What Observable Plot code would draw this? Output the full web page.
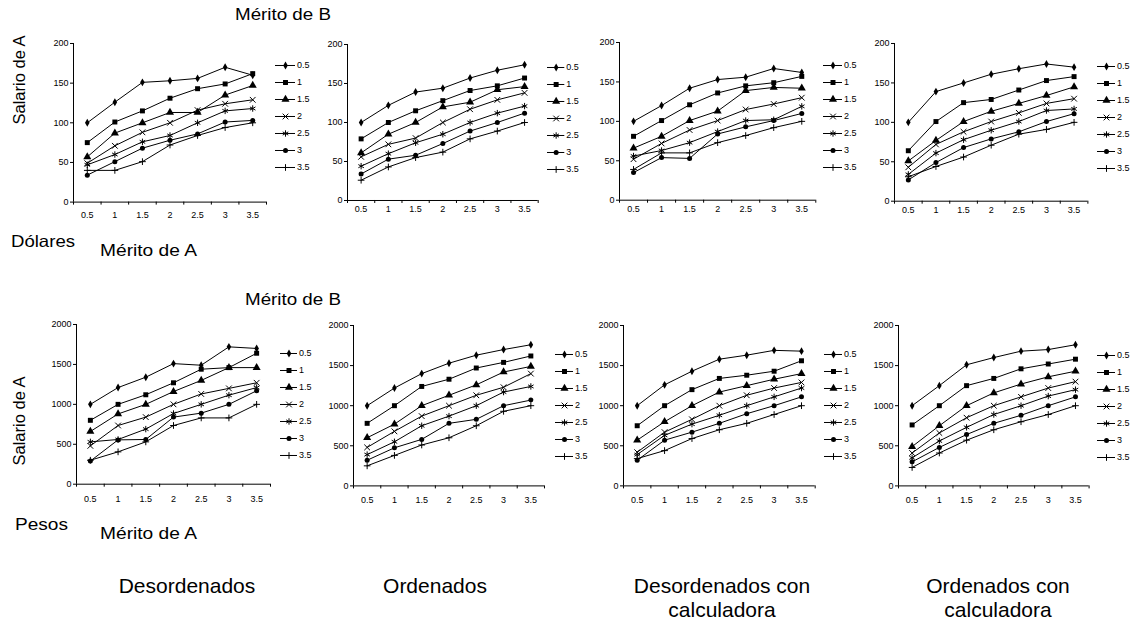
<!DOCTYPE html>
<html>
<head>
<meta charset="utf-8">
<script src="https://cdn.jsdelivr.net/npm/d3@7"></script>
<script src="https://cdn.jsdelivr.net/npm/@observablehq/plot@0.6"></script>
<style>
  html, body { margin: 0; padding: 0; background: #fff; }
  #root { position: relative; width: 1140px; height: 623px; background: #fff; overflow: hidden; }
</style>
</head>
<body>
<div id="root"></div>
<script>
// ---------- DATA ----------
const meritoA = [0.5, 1, 1.5, 2, 2.5, 3, 3.5];          // Mérito de A (x)
const meritoB = ["0.5", "1", "1.5", "2", "2.5", "3", "3.5"]; // Mérito de B (series)
const ticksDolares = [0, 50, 100, 150, 200];
const ticksPesos = [0, 500, 1000, 1500, 2000];
const condiciones = ["Desordenados", "Ordenados", "Desordenados con calculadora", "Ordenados con calculadora"];

// rows: Mérito de B series; columns: Mérito de A
const dolaresDesordenados = [
  [100, 126, 151, 153, 156, 170, 160],
  [75, 101, 115, 131, 143, 149, 162],
  [57, 87, 100, 113, 113, 135, 147],
  [49, 71, 88, 100, 116, 124, 129],
  [47, 60, 76, 84, 100, 115, 118],
  [34, 51, 68, 78, 86, 101, 103],
  [40, 40, 51, 72, 84, 94, 100]
];
const dolaresOrdenados = [
  [100, 122, 139, 144, 157, 167, 174],
  [79, 100, 115, 128, 141, 147, 157],
  [61, 85, 100, 120, 126, 142, 146],
  [56, 72, 80, 100, 117, 129, 138],
  [44, 60, 74, 85, 100, 112, 121],
  [34, 53, 58, 73, 89, 100, 112],
  [26, 43, 55, 62, 79, 89, 100]
];
const dolaresDesordCalc = [
  [100, 120, 142, 153, 156, 167, 162],
  [81, 101, 121, 136, 145, 149, 157],
  [66, 81, 101, 113, 139, 143, 142],
  [52, 72, 89, 101, 115, 122, 130],
  [56, 63, 73, 87, 101, 102, 119],
  [35, 54, 53, 84, 93, 101, 110],
  [39, 60, 60, 73, 82, 92, 100]
];
const dolaresOrdCalc = [
  [100, 139, 150, 161, 168, 174, 170],
  [64, 101, 125, 129, 141, 153, 158],
  [51, 77, 101, 114, 124, 134, 145],
  [43, 72, 88, 101, 112, 124, 130],
  [34, 61, 78, 90, 101, 115, 117],
  [27, 49, 68, 79, 88, 101, 111],
  [31, 44, 56, 71, 85, 91, 100]
];
const pesosDesordenados = [
  [1000, 1210, 1340, 1510, 1490, 1720, 1700],
  [800, 1000, 1120, 1270, 1440, 1460, 1640],
  [660, 880, 1000, 1160, 1300, 1460, 1460],
  [480, 735, 840, 1000, 1130, 1200, 1270],
  [530, 560, 690, 885, 1000, 1115, 1210],
  [290, 555, 560, 840, 890, 1000, 1170],
  [300, 405, 530, 735, 830, 830, 1000]
];
const pesosOrdenados = [
  [1000, 1220, 1400, 1530, 1630, 1700, 1760],
  [780, 1000, 1240, 1330, 1470, 1540, 1620],
  [600, 770, 1000, 1130, 1260, 1420, 1490],
  [480, 680, 870, 1000, 1130, 1230, 1400],
  [390, 550, 750, 870, 1000, 1170, 1240],
  [320, 475, 580, 780, 830, 1000, 1070],
  [250, 380, 510, 600, 750, 930, 1000]
];
const pesosDesordCalc = [
  [1000, 1260, 1430, 1580, 1630, 1690, 1680],
  [750, 1000, 1200, 1340, 1380, 1430, 1560],
  [570, 800, 1000, 1170, 1250, 1330, 1400],
  [420, 670, 830, 1000, 1130, 1220, 1290],
  [390, 630, 770, 880, 1000, 1110, 1220],
  [320, 570, 670, 780, 900, 1000, 1110],
  [340, 440, 590, 700, 780, 890, 1000]
];
const pesosOrdCalc = [
  [1000, 1250, 1510, 1600, 1680, 1700, 1760],
  [760, 1000, 1250, 1340, 1460, 1520, 1580],
  [490, 750, 1000, 1160, 1270, 1360, 1430],
  [410, 660, 850, 1000, 1110, 1220, 1300],
  [350, 560, 730, 890, 1000, 1120, 1200],
  [300, 480, 640, 780, 880, 1000, 1110],
  [230, 410, 570, 700, 800, 890, 1000]
];

// ---------- STYLE / LAYOUT ----------
const FONT = "'Liberation Sans', Arial, Helvetica, sans-serif";
const TICKFONT = "'Liberation Sans Narrow', 'Arial Narrow', 'Liberation Sans', Arial, sans-serif";
const symbols = [
  {symbol: "diamond", fill: true, r: 2.4},
  {symbol: "square", fill: true, r: 2.8},
  {symbol: "triangle", fill: true, r: 3.0},
  {symbol: "times", fill: false, r: 2.7},
  {symbol: "asterisk", fill: false, r: 3.0},
  {symbol: "circle", fill: true, r: 2.5},
  {symbol: "plus", fill: false, r: 2.3}
];

const panels = [
  {values: dolaresDesordenados, yTicks: ticksDolares, L: 72.7, R: 265.7, T: 42.7, B: 201.3, pad: 10, lx1: 275, lx2: 295, ly1: 63.3, ly2: 170},
  {values: dolaresOrdenados, yTicks: ticksDolares, L: 347.3, R: 538, T: 44, B: 200, pad: 5, lx1: 546.7, lx2: 564, ly1: 65, ly2: 170.7},
  {values: dolaresDesordCalc, yTicks: ticksDolares, L: 618.7, R: 815, T: 42.3, B: 200, pad: 5, lx1: 823, lx2: 842, ly1: 63, ly2: 169},
  {values: dolaresOrdCalc, yTicks: ticksDolares, L: 894.3, R: 1087.7, T: 43.3, B: 201, pad: 5, lx1: 1097, lx2: 1115, ly1: 64, ly2: 170},
  {values: pesosDesordenados, yTicks: ticksPesos, L: 76, R: 270, T: 324.3, B: 484, pad: 11, lx1: 280, lx2: 297, ly1: 351, ly2: 457.3},
  {values: pesosOrdenados, yTicks: ticksPesos, L: 353.3, R: 544.3, T: 325.3, B: 485.7, pad: 11, lx1: 555, lx2: 573, ly1: 351.7, ly2: 457.3},
  {values: pesosDesordCalc, yTicks: ticksPesos, L: 623.3, R: 815, T: 325.3, B: 485.7, pad: 11, lx1: 824, lx2: 842, ly1: 351.7, ly2: 457.3},
  {values: pesosOrdCalc, yTicks: ticksPesos, L: 897.7, R: 1088.3, T: 325.3, B: 485.7, pad: 11, lx1: 1097, lx2: 1115, ly1: 352, ly2: 459}
];

const root = document.getElementById("root");

function place(el, left, top) {
  el.style.position = "absolute";
  el.style.left = left + "px";
  el.style.top = top + "px";
  el.style.overflow = "visible";
  el.style.background = "none";
  root.appendChild(el);
}

function dotsFor(data, s, i, opts) {
  return Plot.dot(data, {
    ...opts, symbol: s.symbol, r: s.r,
    fill: s.fill ? "black" : "none",
    stroke: s.fill ? "none" : "black",
    strokeWidth: 1
  });
}

function drawPanel(cfg) {
  const {values, yTicks, L, R, T, B, pad} = cfg;
  const yMax = yTicks[yTicks.length - 1];
  const step = meritoA[1] - meritoA[0];
  const xDomain = [meritoA[0] - step / 2, meritoA[meritoA.length - 1] + step / 2];
  const bounds = d3.range(meritoA.length + 1).map(i => xDomain[0] + i * step);
  const table = meritoB.flatMap((b, i) => meritoA.map((a, j) => ({b, a, v: values[i][j]})));
  const ML = 36, MT = 6, MR = 4, MB = 26;
  const chart = Plot.plot({
    width: ML + (R - L) + MR,
    height: MT + (B - T) + MB,
    marginLeft: ML, marginTop: MT, marginRight: MR, marginBottom: MB,
    x: {domain: xDomain},
    y: {domain: [0, yMax]},
    style: {fontFamily: TICKFONT, fontSize: "9px", color: "black", background: "none", overflow: "visible"},
    marks: [
      Plot.ruleX([xDomain[0]], {stroke: "black", strokeWidth: 1}),
      Plot.ruleY([0], {stroke: "black", strokeWidth: 1}),
      Plot.axisY({ticks: yTicks, tickSize: 3, tickPadding: 2, tickFormat: d => String(d), label: null, fontSize: 9}),
      Plot.axisX({ticks: bounds, tickSize: 3, tickFormat: () => "", label: null}),
      Plot.axisX({ticks: meritoA, tickSize: 0, tickPadding: pad, tickFormat: d => String(d), label: null, fontSize: 9}),
      Plot.line(table, {x: "a", y: "v", z: "b", stroke: "black", strokeWidth: 1}),
      ...symbols.map((s, i) => dotsFor(table, s, i, {filter: d => d.b === meritoB[i], x: "a", y: "v"}))
    ]
  });
  place(chart, L - ML, T - MT);
}

function drawLegend(cfg) {
  const {lx1, lx2, ly1, ly2} = cfg;
  const len = lx2 - lx1;
  const off = 6;
  const legend = Plot.plot({
    width: len + 22,
    height: (ly2 - ly1) + 2 * off,
    margin: 0,
    x: {domain: [0, 1], range: [0, len], axis: null},
    y: {type: "point", domain: meritoB, range: [off, off + (ly2 - ly1)], padding: 0, axis: null},
    style: {fontFamily: TICKFONT, fontSize: "9px", color: "black", background: "none", overflow: "visible"},
    marks: [
      Plot.ruleY(meritoB, {y: d => d, x1: 0, x2: 1, stroke: "black", strokeWidth: 1}),
      ...symbols.map((s, i) => dotsFor([meritoB[i]], s, i, {x: 0.5, y: d => d})),
      Plot.text(meritoB, {x: 1, y: d => d, text: d => d, textAnchor: "start", dx: 1.5, fontSize: 9})
    ]
  });
  place(legend, lx1, ly1 - off);
}

panels.forEach(p => { drawPanel(p); drawLegend(p); });

// ---------- TEXT LABELS ----------
const overlay = d3.create("svg")
  .attr("width", 1140).attr("height", 623)
  .style("position", "absolute").style("left", "0px").style("top", "0px")
  .style("pointer-events", "none")
  .attr("font-family", FONT).attr("fill", "black");

const labels = [
  {t: "Mérito de B", x: 235, y: 20, s: 16.5, len: 96},
  {t: "Dólares", x: 11, y: 247, s: 16.5, len: 64},
  {t: "Mérito de A", x: 100, y: 256, s: 16.5, len: 97},
  {t: "Mérito de B", x: 245, y: 305, s: 16.5, len: 96},
  {t: "Pesos", x: 15, y: 530, s: 16.5, len: 53},
  {t: "Mérito de A", x: 100, y: 538.5, s: 16.5, len: 97}
];
labels.forEach(l => {
  overlay.append("text").attr("x", l.x).attr("y", l.y).attr("font-size", l.s)
    .attr("textLength", l.len).attr("lengthAdjust", "spacingAndGlyphs").text(l.t);
});
[80, 421].forEach(cy => {
  overlay.append("text").attr("transform", `translate(25,${cy}) rotate(-90)`)
    .attr("text-anchor", "middle").attr("font-size", 16.5).text("Salario de A");
});
const condPos = [
  {x: 187, y: 593},
  {x: 435, y: 593},
  {x: 722, y: 593},
  {x: 998, y: 593}
];
condiciones.forEach((c, i) => {
  const words = c.split(" ");
  const lines = words.length > 2 ? [words.slice(0, 2).join(" "), words.slice(2).join(" ")] : [c];
  lines.forEach((ln, k) => {
    overlay.append("text").attr("x", condPos[i].x).attr("y", condPos[i].y + k * 24)
      .attr("text-anchor", "middle").attr("font-size", 21).text(ln);
  });
});
root.appendChild(overlay.node());
</script>
</body>
</html>
